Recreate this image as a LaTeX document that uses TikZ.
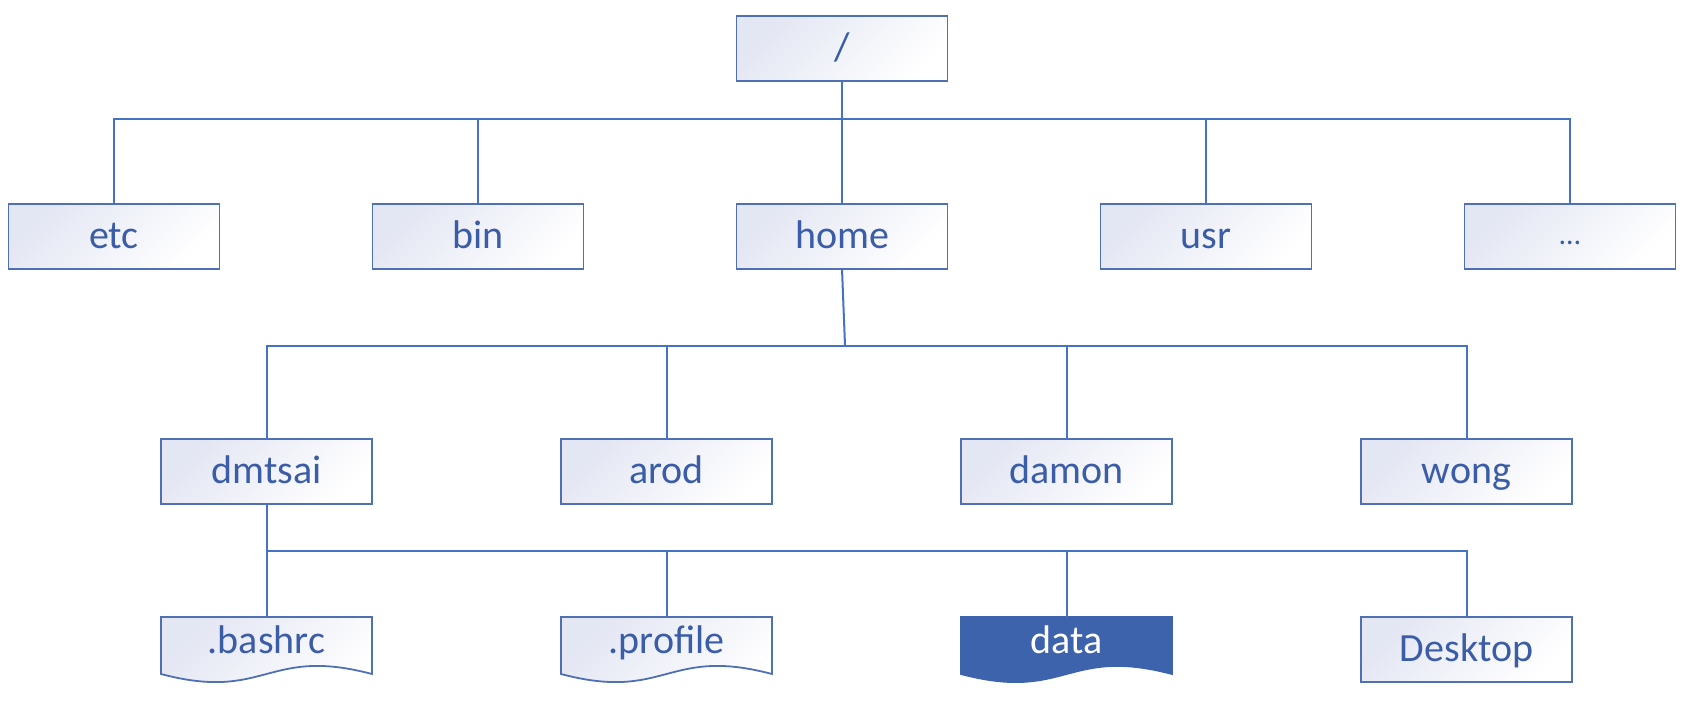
\documentclass[tikz,border=0pt]{standalone}
\usepackage{fontspec}
\setmainfont{Carlito}
\usetikzlibrary{calc,positioning}
\definecolor{lineblue}{HTML}{4472C4}
\definecolor{edgeblue}{HTML}{4F70B5}
\definecolor{textblue}{HTML}{3B5DA7}
\definecolor{boxtop}{HTML}{E3E6F3}
\definecolor{datablue}{HTML}{3D63AC}
\pgfdeclarelayer{bg}
\pgfsetlayers{bg,main}
\tikzset{
        block/.style = {draw=edgeblue, rectangle, line width=0.9pt,
            minimum width=105.5pt,
            minimum height=32.5pt,
            top color=boxtop, bottom color=white, shading angle=45,
            text=textblue, inner sep=0pt, outer sep=0pt,
            font=\fontsize{20}{24}\selectfont,
            text height=15.5pt, text depth=4pt},
        doc/.style = {rectangle, inner sep=0pt, outer sep=0pt,
            minimum width=105.5pt,
            minimum height=28.5pt,
            text=textblue,
            font=\fontsize{20}{24}\selectfont,
            text height=14pt, text depth=6.5pt},
        docline/.style = {draw=edgeblue, line width=0.9pt,
            top color=boxtop, bottom color=white, shading angle=45},
        docfill/.style = {draw=datablue, fill=datablue, line width=0.9pt},
        wire/.style = {draw=lineblue, line width=1pt},
    }
% page shape with a wavy lower edge, drawn round a doc node
\newcommand\docframe[2]{%
  \path[#2] (#1.south west) -- (#1.north west) -- (#1.north east) -- (#1.south east)
    .. controls ($(#1.south)+(0,-28)$) and ($(#1.south)+(0,28)$) .. (#1.south west) -- cycle;}

\begin{document}
\begin{tikzpicture}[x=0.5pt,y=-0.5pt]
    \useasboundingbox (0,0) rectangle (1684,702);

    % top row
    \node[block] (etc) at (114,236.5) {etc};
    \node[block, right=76.5pt of etc] (bin) {bin};
    \node[block, right=76.5pt of bin] (home) {home};
    \node[block, right=76.5pt of home] (usr) {usr};
    \node[block, right=76.5pt of usr, font=\fontsize{15}{18}\selectfont,
          text height=14pt, text depth=6.5pt] (more) {…};
    \node[block, above=61.5pt of home] (root) {/};

    % users
    \node[block] (dmtsai) at (266.5,471.5) {dmtsai};
    \node[block, right=94.5pt of dmtsai] (arod) {arod};
    \node[block, right=94.5pt of arod] (damon) {damon};
    \node[block, right=94.5pt of damon] (wong) {wong};

    % files of dmtsai
    \node[doc, below=56.5pt of dmtsai] (bashrc) {.bashrc};
    \node[doc, right=94.5pt of bashrc] (profile) {.profile};
    \node[doc, right=94.5pt of profile, text=white] (data) {data};
    \node[block, below=56.5pt of wong] (desktop) {Desktop};
    \begin{pgfonlayer}{bg}
        \docframe{bashrc}{docline}
        \docframe{profile}{docline}
        \docframe{data}{docfill}
    \end{pgfonlayer}

    \coordinate (bus1) at (842.5,119);
    \coordinate (bus2) at (845,345.5);
    \coordinate (bus3) at (266.5,551);

    \draw[wire] (root.south) -- (home.north);
    \draw[wire] (etc.north) |- (bus1) -| (more.north);
    \foreach \n in {bin,usr}
        \draw[wire] (\n.north) -- (\n.north |- bus1);

    \draw[wire] (home.south) -- (bus2);
    \draw[wire] (dmtsai.north) |- (bus2) -| (wong.north);
    \foreach \n in {arod,damon}
        \draw[wire] (\n.north) -- (\n.north |- bus2);

    \draw[wire] (dmtsai.south) -- (bashrc.north);
    \draw[wire] (bus3) -| (desktop.north);
    \foreach \n in {profile,data}
        \draw[wire] (\n.north) -- (\n.north |- bus3);
\end{tikzpicture}
\end{document}
